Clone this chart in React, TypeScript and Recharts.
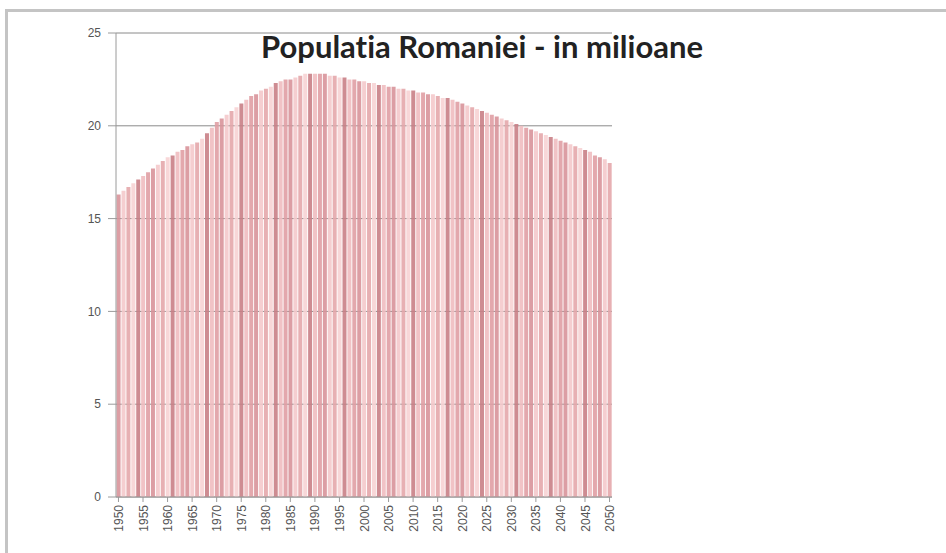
import { Bar, BarChart, CartesianGrid, Cell, XAxis, YAxis } from "recharts";

const years = [
  1950, 1951, 1952, 1953, 1954, 1955, 1956, 1957, 1958, 1959,
  1960, 1961, 1962, 1963, 1964, 1965, 1966, 1967, 1968, 1969,
  1970, 1971, 1972, 1973, 1974, 1975, 1976, 1977, 1978, 1979,
  1980, 1981, 1982, 1983, 1984, 1985, 1986, 1987, 1988, 1989,
  1990, 1991, 1992, 1993, 1994, 1995, 1996, 1997, 1998, 1999,
  2000, 2001, 2002, 2003, 2004, 2005, 2006, 2007, 2008, 2009,
  2010, 2011, 2012, 2013, 2014, 2015, 2016, 2017, 2018, 2019,
  2020, 2021, 2022, 2023, 2024, 2025, 2026, 2027, 2028, 2029,
  2030, 2031, 2032, 2033, 2034, 2035, 2036, 2037, 2038, 2039,
  2040, 2041, 2042, 2043, 2044, 2045, 2046, 2047, 2048, 2049,
  2050,
];

// population, millions
const population = [
  16.3, 16.5, 16.7, 16.9, 17.1, 17.3, 17.5, 17.7, 17.9, 18.1,
  18.3, 18.4, 18.6, 18.7, 18.9, 19.0, 19.1, 19.3, 19.6, 19.9,
  20.2, 20.4, 20.6, 20.8, 21.0, 21.2, 21.4, 21.6, 21.7, 21.9,
  22.0, 22.1, 22.3, 22.4, 22.5, 22.5, 22.6, 22.7, 22.8, 22.8,
  22.8, 22.8, 22.8, 22.7, 22.7, 22.6, 22.6, 22.5, 22.5, 22.4,
  22.4, 22.3, 22.3, 22.2, 22.2, 22.1, 22.1, 22.0, 22.0, 21.9,
  21.9, 21.8, 21.8, 21.7, 21.7, 21.6, 21.5, 21.5, 21.4, 21.3,
  21.2, 21.1, 21.0, 20.9, 20.8, 20.7, 20.6, 20.5, 20.4, 20.3,
  20.2, 20.1, 20.0, 19.9, 19.8, 19.7, 19.6, 19.5, 19.4, 19.3,
  19.2, 19.1, 19.0, 18.9, 18.8, 18.7, 18.6, 18.4, 18.3, 18.2,
  18.0,
];

const yTicks = [0, 5, 10, 15, 20, 25];

const stripeColors = ["#d8949a", "#f4c9cb", "#e4a7ab", "#f7d3d4", "#c98086", "#efbdc0", "#e09fa4"];

const data = years.map((year, i) => ({ year: String(year), value: population[i] }));

export default function App() {
  return (
    <div style={{ position: "absolute", left: 0, top: 0, width: 946, height: 553, background: "#fff", overflow: "hidden" }}>
      <div
        style={{
          position: "absolute",
          left: 5,
          top: 9,
          width: 960,
          height: 560,
          borderTop: "3px solid #c4c4c4",
          borderLeft: "3px solid #c4c4c4",
        }}
      />
      <BarChart
        width={946}
        height={553}
        data={data}
        margin={{ top: 33, right: 334, bottom: 0, left: 0 }}
        barCategoryGap="12%"
        style={{ position: "absolute", left: 0, top: 0 }}
      >
        <CartesianGrid horizontal vertical={false} stroke="#8a8a8a" strokeWidth={1} />
        <XAxis
          dataKey="year"
          interval={4}
          height={56}
          angle={-90}
          textAnchor="end"
          dx={-4}
          tickSize={5}
          tickMargin={3}
          stroke="#9a9a9a"
          tick={{ fontSize: 12, fill: "#555", fontFamily: "Liberation Sans" }}
        />
        <YAxis
          domain={[0, 25]}
          ticks={yTicks}
          width={116}
          tickSize={8}
          tickMargin={7}
          stroke="#9a9a9a"
          tick={{ fontSize: 12, fill: "#555", fontFamily: "Liberation Sans" }}
        />
        <Bar dataKey="value" isAnimationActive={false} fillOpacity={0.9}>
          {data.map((d, i) => (
            <Cell key={d.year} fill={stripeColors[i % stripeColors.length]} />
          ))}
        </Bar>
      </BarChart>
      <div
        style={{
          position: "absolute",
          left: 232,
          top: 28,
          width: 500,
          textAlign: "center",
          fontFamily: "Lato",
          fontWeight: 700,
          fontSize: 31,
          lineHeight: "37px",
          color: "#222",
          whiteSpace: "nowrap",
          fontVariantLigatures: "none",
        }}
      >
        Populatia Romaniei - in milioane
      </div>
    </div>
  );
}
